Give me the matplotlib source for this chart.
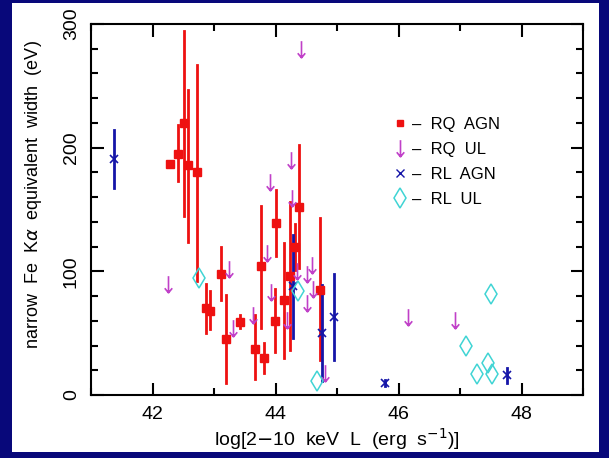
import matplotlib.pyplot as plt
from matplotlib.patches import Rectangle
from matplotlib.lines import Line2D
from matplotlib.path import Path
from matplotlib.ticker import MultipleLocator

plt.rc('font', family='Liberation Sans', size=14)

# RQ AGN: detections with error bars
rq_x = [42.29, 42.41, 42.52, 42.58, 42.73, 42.87, 42.93, 43.11, 43.20, 43.42,
        43.67, 43.76, 43.81, 43.99, 44.01, 44.14, 44.24, 44.31, 44.38, 44.72]
rq_y = [187, 195, 220, 186, 180, 70, 68, 98, 45, 59,
        37, 104, 30, 60, 139, 77, 96, 120, 152, 85]
rq_lo = [187, 173, 145, 124, 92, 50, 53, 77, 10, 54,
         13, 54, 18, 35, 112, 30, 36, 101, 103, 28]
rq_hi = [187, 218, 294, 247, 267, 90, 84, 120, 81, 65,
         65, 153, 42, 86, 166, 123, 156, 138, 202, 143]

# RQ upper limits
rqul_x = [44.42, 44.25, 43.91, 44.27, 42.25, 43.25, 43.31, 43.64, 43.86, 43.93,
          44.18, 44.35, 44.51, 44.60, 44.51, 44.61, 44.80, 46.16, 46.92]
rqul_y = [280, 190, 172, 159, 90, 102, 54, 65, 115, 83,
          61, 100, 98, 105, 74, 86, 18, 63, 61]

# RL AGN: detections with error bars
rl_x = [41.38, 44.29, 44.76, 44.95, 45.78, 47.76]
rl_y = [191, 88, 50, 63, 9.5, 16]
rl_lo = [167, 46, 11, 28, 7, 10]
rl_hi = [214, 129, 89, 98, 12, 22]

# RL upper limits
rlul_x = [42.75, 44.37, 44.68, 47.50, 47.10, 47.27, 47.46, 47.52]
rlul_y = [95, 84, 11, 82, 40, 17, 26, 17]

red = '#ee1111'
violet = '#c040c8'
blue = '#1515a8'
cyan = '#40d4d4'

# thin down arrow used for the upper limits
arrow = Path([(0, 1), (0, -1), (-0.45, -0.45), (0, -1), (0.45, -0.45)],
             [Path.MOVETO, Path.LINETO, Path.MOVETO, Path.LINETO, Path.LINETO])

fig = plt.figure(figsize=(6.09, 4.58), dpi=100, facecolor='#08087a')
fig.add_artist(Rectangle((12 / 609, 1 - 452 / 458), 587 / 609, 449 / 458,
                         transform=fig.transFigure, facecolor='white',
                         edgecolor='none', zorder=-5))
ax = fig.add_axes([91 / 609, 1 - 395 / 458, 492 / 609, 371 / 458])
ax.set_zorder(1)

for x, lo, hi in zip(rq_x, rq_lo, rq_hi):
    ax.plot([x, x], [lo, hi], color=red, lw=2, zorder=2)
ax.plot(rq_x, rq_y, 's', color=red, ms=6, zorder=3)

for x, lo, hi in zip(rl_x, rl_lo, rl_hi):
    ax.plot([x, x], [lo, hi], color=blue, lw=2, zorder=2)
ax.plot(rl_x, rl_y, 'x', color=blue, ms=6, mew=1.2, zorder=3)

ax.plot(rqul_x, rqul_y, ls='none', marker=arrow, mfc='none', mec=violet,
        mew=1.2, ms=12, zorder=3)
ax.plot(rlul_x, rlul_y, ls='none', marker='d', mfc='none', mec=cyan, mew=1.1, ms=10, zorder=3)

ax.set_xlim(41, 49)
ax.set_ylim(0, 300)
ax.xaxis.set_major_locator(MultipleLocator(2))
ax.xaxis.set_minor_locator(MultipleLocator(1))
ax.yaxis.set_major_locator(MultipleLocator(100))
ax.yaxis.set_minor_locator(MultipleLocator(20))
ax.tick_params(which='both', direction='in', top=True, right=True, width=1.5)
ax.tick_params(which='major', length=9, labelsize=14, pad=8)
ax.tick_params(which='minor', length=5)
for lab in ax.get_yticklabels():
    lab.set_rotation(90)
    lab.set_va('center')
for s in ax.spines.values():
    s.set_linewidth(1.5)

ax.set_xlabel(r'log[2$-$10  keV  L  (erg  s$^{-1}$)]', fontsize=14, labelpad=2)
ax.set_ylabel(r'narrow  Fe  K$\alpha$  equivalent  width  (eV)', fontsize=13)
ax.yaxis.set_label_coords(-0.095, 0.54)

handles = [
    Line2D([], [], ls='none', marker='s', color=red, ms=5),
    Line2D([], [], ls='none', marker=arrow, mfc='none', mec=violet, mew=1.2, ms=12),
    Line2D([], [], ls='none', marker='x', color=blue, ms=6),
    Line2D([], [], ls='none', marker='d', mfc='none', mec=cyan, mew=1.1, ms=10),
]
labels = ['\u2013  RQ  AGN', '\u2013  RQ  UL', '\u2013  RL  AGN', '\u2013  RL  UL']
ax.legend(handles, labels, loc='upper left', bbox_to_anchor=(0.585, 0.79),
          frameon=False, fontsize=12, handlelength=0.8, handletextpad=0.3,
          labelspacing=0.6)

fig.savefig('out.png', dpi=100, facecolor=fig.get_facecolor())
